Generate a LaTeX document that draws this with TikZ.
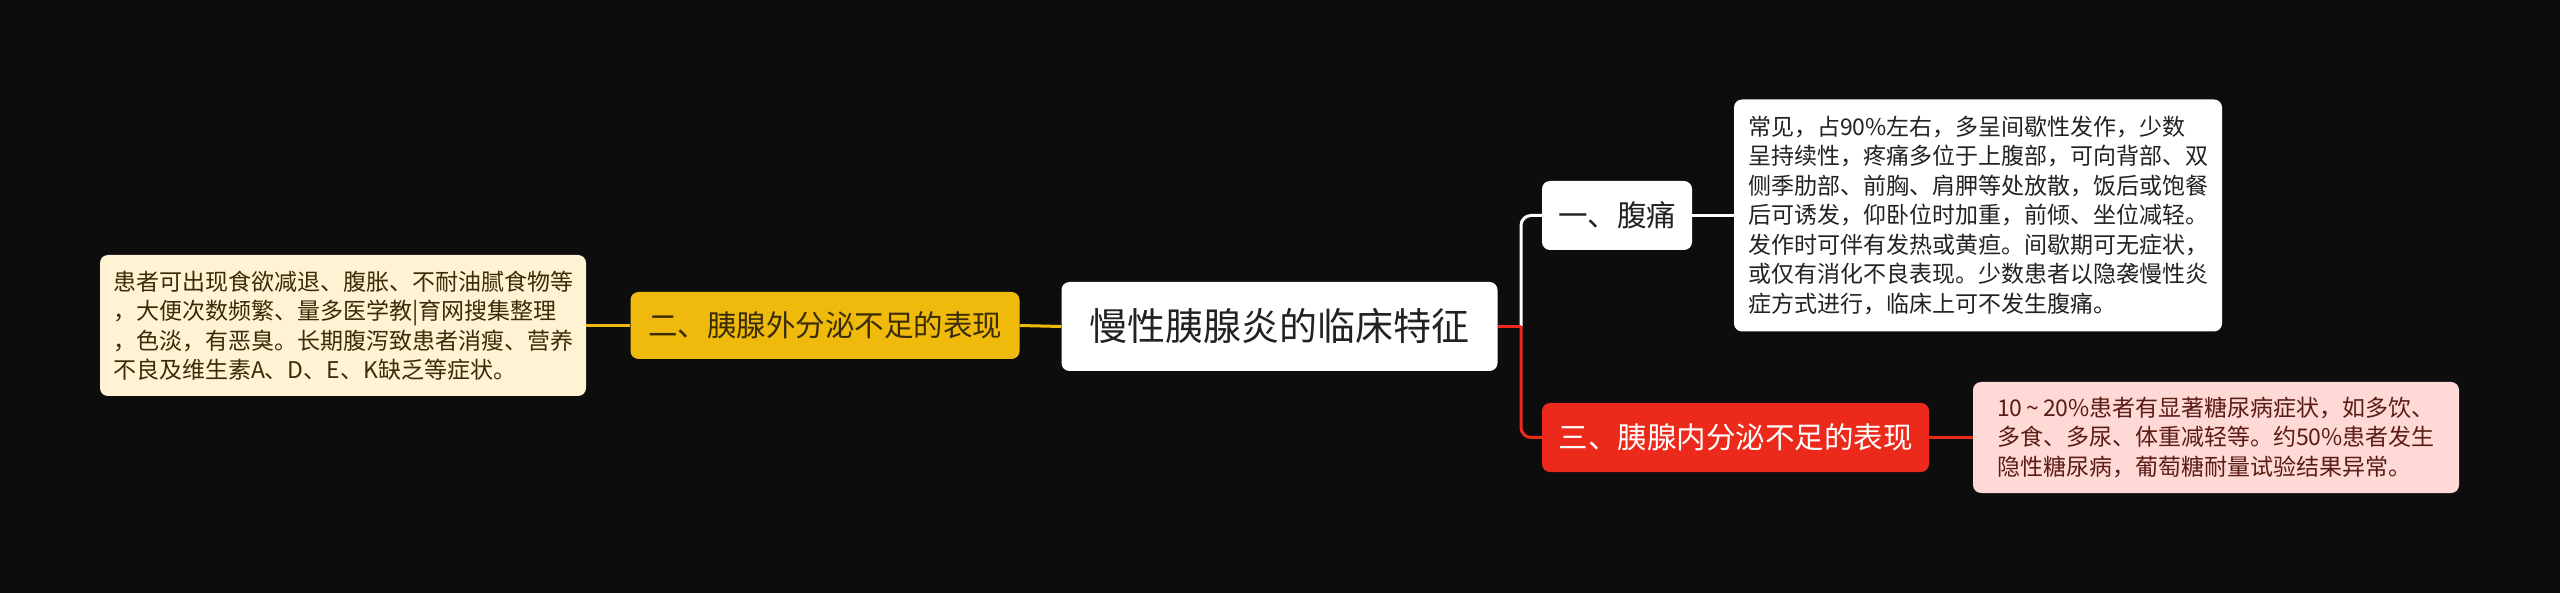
\documentclass[tikz,border=0pt]{standalone}
\usepackage{fontspec}
\setmainfont{Noto Sans CJK SC}
\usepackage{tikz}
\usetikzlibrary{positioning,calc}
\definecolor{bgdark}{RGB}{13,13,13}
\definecolor{goldbox}{RGB}{240,186,12}
\definecolor{goldleaf}{RGB}{255,243,212}
\definecolor{goldtext}{RGB}{58,44,6}
\definecolor{redbox}{RGB}{236,42,27}
\definecolor{redleaf}{RGB}{255,217,213}
\definecolor{redtext}{RGB}{92,28,22}
\definecolor{inktext}{RGB}{34,34,34}

\begin{document}
\begin{tikzpicture}[x=1pt,y=-1pt,
    topic/.style={rounded corners=8pt,inner sep=0pt,align=center},
    leaf/.style={rounded corners=8pt,inner sep=0pt,align=left,
      font=\fontsize{23}{29.5}\selectfont},
    link/.style={line width=3pt}]
  % canvas
  \fill[bgdark] (0,0) rectangle (2560,593);
  \useasboundingbox (0,0) rectangle (2560,593);
  % main topic
  \node[topic,fill=white,text=inktext,minimum width=436pt,minimum height=89pt,
    font=\fontsize{38}{44}\selectfont] (root) at (1279.5,326.5) {慢性胰腺炎的临床特征};
  % left branch
  \node[topic,fill=goldbox,text=goldtext,minimum width=389pt,minimum height=67pt,
    font=\fontsize{29.5}{34}\selectfont] (outer) at (825,325.5) {二、胰腺外分泌不足的表现};
  \node[leaf,fill=goldleaf,text=goldtext,minimum width=486pt,minimum height=141pt]
    (outerleaf) at (343,325.5) {患者可出现食欲减退、腹胀、不耐油腻食物等\\
    ，大便次数频繁、量多医学教|育网搜集整理\\
    ，色淡，有恶臭。长期腹泻致患者消瘦、营养\\
    不良及维生素A、D、E、K缺乏等症状。};
  % right branches
  \node[topic,fill=white,text=inktext,minimum width=150pt,minimum height=69pt,
    font=\fontsize{29.5}{34}\selectfont] (pain) at (1617,215.5) {一、腹痛};
  \node[leaf,fill=white,text=inktext,minimum width=488pt,minimum height=232pt]
    (painleaf) at (1978,215.5) {常见，占90\%左右，多呈间歇性发作，少数\\
    呈持续性，疼痛多位于上腹部，可向背部、双\\
    侧季肋部、前胸、肩胛等处放散，饭后或饱餐\\
    后可诱发，仰卧位时加重，前倾、坐位减轻。\\
    发作时可伴有发热或黄疸。间歇期可无症状，\\
    或仅有消化不良表现。少数患者以隐袭慢性炎\\
    症方式进行，临床上可不发生腹痛。};
  \node[topic,fill=redbox,text=white,minimum width=387pt,minimum height=69pt,
    font=\fontsize{29.5}{34}\selectfont] (inner) at (1735.5,437.5) {三、胰腺内分泌不足的表现};
  \node[leaf,fill=redleaf,text=redtext,minimum width=486pt,minimum height=111pt]
    (innerleaf) at (2216,437.5) {10\,\textasciitilde\,20\%患者有显著糖尿病症状，如多饮、\\
    多食、多尿、体重减轻等。约50\%患者发生\\
    隐性糖尿病，葡萄糖耐量试验结果异常。};
  % connectors
  \coordinate (fork) at (1521,326.5);
  \draw[link,goldbox] (root.west) -- (outer.east);
  \draw[link,goldbox] (outer.west) -- (outerleaf.east);
  \draw[link,white,rounded corners=10pt] (fork) |- (pain.west);
  \draw[link,white] (pain.east) -- (painleaf.west);
  \draw[link,redbox] (root.east) -- (fork);
  \draw[link,redbox,rounded corners=10pt] (fork) |- (inner.west);
  \draw[link,redbox] (inner.east) -- (innerleaf.west);
\end{tikzpicture}
\end{document}
